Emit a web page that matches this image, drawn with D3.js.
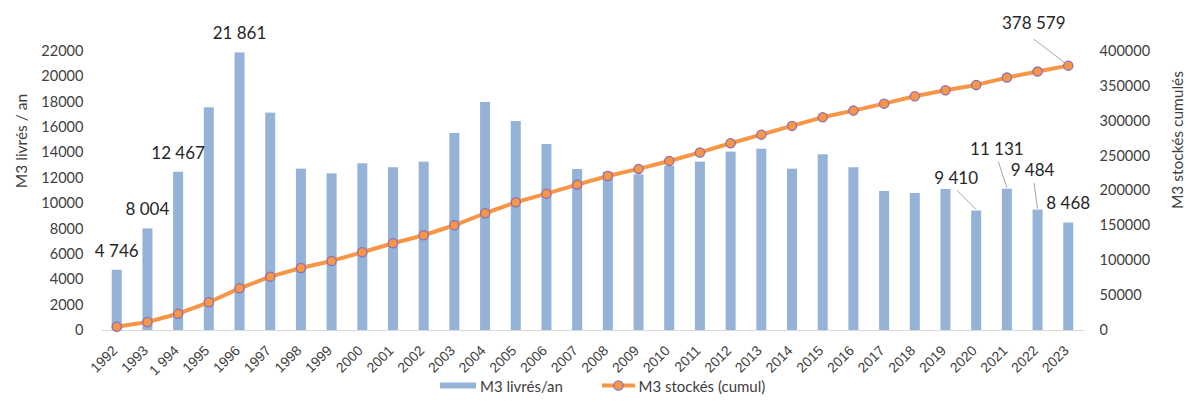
<!DOCTYPE html>
<html>
<head>
<meta charset="utf-8">
<script src="https://cdn.jsdelivr.net/npm/d3@7/dist/d3.min.js"></script>
<style>
  html, body { margin: 0; padding: 0; background: #fff; }
  svg { display: block; font-family: Lato, "Open Sans", sans-serif; }
</style>
</head>
<body>
<svg id="chart" width="1189" height="408"></svg>
<script>
// Years on the category axis (the 1994 label carries a thousands space)
const years = ["1992","1993","1 994","1995","1996","1997","1998","1999","2000","2001",
  "2002","2003","2004","2005","2006","2007","2008","2009","2010","2011","2012",
  "2013","2014","2015","2016","2017","2018","2019","2020","2021","2022","2023"];

// M3 delivered per year (bars, left axis)
const delivered = [4746, 8004, 12467, 17540, 21861, 17120, 12710, 12340, 13130, 12820,
  13260, 15520, 17960, 16460, 14650, 12680, 12470, 12260, 12940, 13260, 14050,
  14280, 12710, 13840, 12820, 10950, 10790, 11110, 9410, 11131, 9484, 8468];

// M3 stored, cumulative (line, right axis)
const cumulative = [4746, 11500, 23350, 39700, 59700, 76400, 88800, 98900, 111300, 124200,
  135700, 150000, 167200, 183000, 195300, 208200, 220600, 230700, 242100, 254300, 267500,
  279800, 292300, 304700, 314200, 324200, 334800, 343400, 351000, 361500, 370100, 378579];

// Axis ticks
const leftTicks = [0, 2000, 4000, 6000, 8000, 10000, 12000, 14000, 16000, 18000, 20000, 22000];
const rightTicks = [0, 50000, 100000, 150000, 200000, 250000, 300000, 350000, 400000];

// Which bars carry a value label
const labelledBars = ["1992", "1993", "1 994", "1996", "2020", "2021", "2022", "2023"];

const svg = d3.select("#chart");
const fr = d3.formatLocale({ decimal: ",", thousands: " ", grouping: [3], currency: ["", " €"] });
const fmt = fr.format(",d");

const yBottom = 330, yTop = 50.7;
const x = d3.scaleBand().domain(years).range([101.4, 1083.6]).paddingInner(0.674).paddingOuter(0.337);
const yL = d3.scaleLinear().domain([0, 22000]).range([yBottom, yTop]);
const yR = d3.scaleLinear().domain([0, 400000]).range([yBottom, yTop]);
const cx = d => x(d) + x.bandwidth() / 2;

const barColor = "#95b3d7";
const lineColor = "#f79646";
const markerStroke = "#8e6fb5";
const textColor = "#262626";
const tickColor = "#404040";

// Left axis
const axL = svg.append("g").attr("transform", `translate(${x.range()[0]},0)`)
  .call(d3.axisLeft(yL).tickValues(leftTicks).tickFormat(d3.format("d")).tickSize(0).tickPadding(18));
axL.select(".domain").remove();
axL.selectAll("text").attr("font-size", 14.5).attr("fill", tickColor).attr("font-family", "Lato");

// Right axis
const axR = svg.append("g").attr("transform", `translate(${x.range()[1]},0)`)
  .call(d3.axisRight(yR).tickValues(rightTicks).tickFormat(d3.format("d")).tickSize(0).tickPadding(16));
axR.select(".domain").remove();
axR.selectAll("text").attr("font-size", 14.5).attr("fill", tickColor).attr("font-family", "Lato");

// Axis titles
svg.append("text").attr("transform", `translate(21,141) rotate(-90)`)
  .attr("text-anchor", "middle").attr("dominant-baseline", "central")
  .attr("font-size", 15.5).attr("fill", tickColor).text("M3 livrés / an");
svg.append("text").attr("transform", `translate(1177,140) rotate(-90)`)
  .attr("text-anchor", "middle").attr("dominant-baseline", "central")
  .attr("font-size", 15.5).attr("fill", tickColor).text("M3 stockés cumulés");

// Bars
svg.append("g").selectAll("rect").data(years).join("rect")
  .attr("x", d => x(d))
  .attr("width", x.bandwidth())
  .attr("y", (d, i) => yL(delivered[i]))
  .attr("height", (d, i) => yBottom - yL(delivered[i]))
  .attr("fill", barColor);

// Category axis baseline and labels
const axB = svg.append("g").attr("transform", `translate(0,${yBottom})`)
  .call(d3.axisBottom(x).tickSize(0).tickPadding(0));
axB.select(".domain").attr("stroke", "#d9d9d9").attr("stroke-width", 1.2);
axB.selectAll(".tick text")
  .attr("font-size", 14).attr("fill", tickColor)
  .attr("text-anchor", "end")
  .attr("dy", null).attr("y", null)
  .attr("transform", "translate(-2,18) rotate(-45)")
  .attr("dominant-baseline", "central");

// Cumulative line
const line = d3.line().x((d, i) => cx(years[i])).y(d => yR(d));
svg.append("path").datum(cumulative)
  .attr("d", line).attr("fill", "none")
  .attr("stroke", lineColor).attr("stroke-width", 4).attr("stroke-linejoin", "round");
svg.append("g").selectAll("circle").data(cumulative).join("circle")
  .attr("cx", (d, i) => cx(years[i]))
  .attr("cy", d => yR(d))
  .attr("r", 4.6)
  .attr("fill", lineColor)
  .attr("stroke", markerStroke).attr("stroke-width", 1.3);

// Value labels on bars (some nudged aside with a leader line)
const nudges = {
  "2020": { dx: -20, dy: -33 },
  "2021": { dx: -10, dy: -40 },
  "2022": { dx: -5, dy: -39.5 }
};
const labG = svg.append("g");
labelledBars.forEach(yr => {
  const i = years.indexOf(yr);
  const bx = cx(yr), by = yL(delivered[i]);
  const n = nudges[yr];
  let lx = bx, ly = by - 19;
  if (n) {
    lx = bx + n.dx; ly = by + n.dy;
    labG.append("line")
      .attr("x1", lx + (yr === "2020" ? 1 : 1.5)).attr("y1", ly + 13)
      .attr("x2", bx).attr("y2", by - 1)
      .attr("stroke", "#a6a6a6").attr("stroke-width", 1);
  }
  labG.append("text").attr("x", lx).attr("y", ly + 6)
    .attr("text-anchor", "middle").attr("font-size", 17).attr("fill", textColor)
    .text(fmt(delivered[i]));
});

// Label on the last cumulative point
{
  const i = cumulative.length - 1;
  const px = cx(years[i]), py = yR(cumulative[i]);
  const lx = px - 34.5, ly = py - 42.5;
  labG.append("line").attr("x1", lx).attr("y1", ly + 16).attr("x2", px - 3).attr("y2", py - 2.5)
    .attr("stroke", "#a6a6a6").attr("stroke-width", 1);
  labG.append("text").attr("x", lx).attr("y", ly + 6)
    .attr("text-anchor", "middle").attr("font-size", 17).attr("fill", textColor)
    .text(fmt(cumulative[i]));
}

// Legend
const lg = svg.append("g");
lg.append("rect").attr("x", 440).attr("y", 382.5).attr("width", 36).attr("height", 6).attr("fill", barColor);
lg.append("text").attr("x", 480).attr("y", 385.5).attr("dominant-baseline", "central")
  .attr("font-size", 15).attr("fill", tickColor).text("M3 livrés/an");
lg.append("line").attr("x1", 602).attr("x2", 635).attr("y1", 385.5).attr("y2", 385.5)
  .attr("stroke", lineColor).attr("stroke-width", 4);
lg.append("circle").attr("cx", 618.5).attr("cy", 385.5).attr("r", 4.6)
  .attr("fill", lineColor).attr("stroke", markerStroke).attr("stroke-width", 1.3);
lg.append("text").attr("x", 638.5).attr("y", 385.5).attr("dominant-baseline", "central")
  .attr("font-size", 15).attr("fill", tickColor).text("M3 stockés (cumul)");
</script>
</body>
</html>
